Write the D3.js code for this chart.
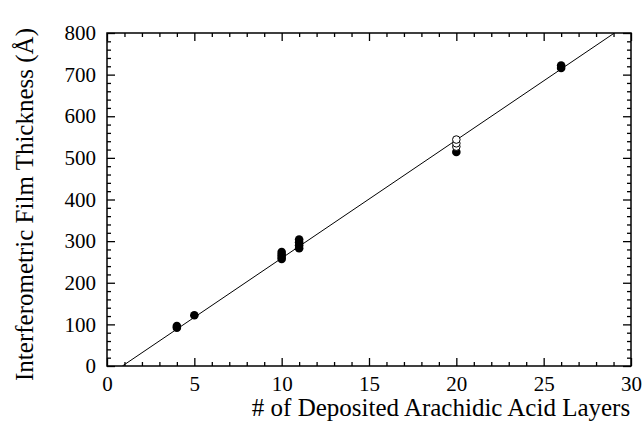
<!DOCTYPE html>
<html><head><meta charset="utf-8">
<script src="https://cdn.jsdelivr.net/npm/d3@7"></script>
<style>html,body{margin:0;padding:0;background:#fff}svg{display:block}
svg text{font-family:"Liberation Serif","Times New Roman",Times,"DejaVu Serif",serif !important;}</style>
</head><body>
<svg id="c" width="644" height="422"></svg>
<script>
// Data
const filledX = [4, 4, 5, 10, 10, 10, 10, 11, 11, 11, 11, 20, 26, 26];
const filledY = [92, 96, 122, 257, 262, 268, 274, 283, 290, 297, 304, 514, 716, 722];
const openX = [20, 20, 20];
const openY = [527, 535, 544];
const fitLine = {slope: 28.4, intercept: -25};
const xTicks = [0, 5, 10, 15, 20, 25, 30];
const yTicks = [0, 100, 200, 300, 400, 500, 600, 700, 800];
const xLabel = "# of Deposited Arachidic Acid Layers";
const yLabel = "Interferometric Film Thickness (Å)";

const svg = d3.select("#c");
const L = 107, R = 631, T = 33, B = 366;
const x = d3.scaleLinear().domain([0, 30]).range([L, R]);
const y = d3.scaleLinear().domain([0, 800]).range([B, T]);

const xMinor = d3.range(0, 31, 1).filter(v => v % 5 !== 0);
const yMinor = d3.range(0, 801, 20).filter(v => v % 100 !== 0);

function axisG(axis, tx, ty) {
  const g = svg.append("g").attr("transform", `translate(${tx},${ty})`).call(axis);
  g.select(".domain").remove();
  g.selectAll("line").attr("stroke", "#000").attr("stroke-width", 1.3);
  return g;
}
axisG(d3.axisBottom(x).tickValues(xTicks).tickSize(-8).tickPadding(10).tickFormat(d3.format("d")), 0, B)
  .selectAll("text").attr("font-size", 21).attr("fill", "#000");
axisG(d3.axisBottom(x).tickValues(xMinor).tickSize(-4).tickFormat(""), 0, B);
axisG(d3.axisTop(x).tickValues(xTicks).tickSize(-8).tickFormat(""), 0, T);
axisG(d3.axisTop(x).tickValues(xMinor).tickSize(-4).tickFormat(""), 0, T);
axisG(d3.axisLeft(y).tickValues(yTicks).tickSize(-8).tickPadding(11).tickFormat(d3.format("d")), L, 0)
  .selectAll("text").attr("font-size", 21).attr("fill", "#000");
axisG(d3.axisLeft(y).tickValues(yMinor).tickSize(-4).tickFormat(""), L, 0);
axisG(d3.axisRight(y).tickValues(yTicks).tickSize(-8).tickFormat(""), R, 0);
axisG(d3.axisRight(y).tickValues(yMinor).tickSize(-4).tickFormat(""), R, 0);

svg.append("rect").attr("x", L).attr("y", T).attr("width", R - L).attr("height", B - T)
  .attr("fill", "none").attr("stroke", "#000").attr("stroke-width", 1.5);

svg.append("clipPath").attr("id", "clip").append("rect")
  .attr("x", L).attr("y", T).attr("width", R - L).attr("height", B - T);
const lx0 = -fitLine.intercept / fitLine.slope, lx1 = (800 - fitLine.intercept) / fitLine.slope;
svg.append("line").attr("clip-path", "url(#clip)")
  .attr("x1", x(lx0)).attr("y1", y(0)).attr("x2", x(lx1)).attr("y2", y(800))
  .attr("stroke", "#000").attr("stroke-width", 1);

svg.append("g").selectAll("circle").data(filledX.map((v, i) => [v, filledY[i]])).join("circle")
  .attr("cx", d => x(d[0])).attr("cy", d => y(d[1])).attr("r", 4.3).attr("fill", "#000");
svg.append("g").selectAll("circle").data(openX.map((v, i) => [v, openY[i]])).join("circle")
  .attr("cx", d => x(d[0])).attr("cy", d => y(d[1])).attr("r", 3.8)
  .attr("fill", "#fff").attr("stroke", "#000").attr("stroke-width", 1);

svg.append("text").attr("x", 441).attr("y", 416).attr("text-anchor", "middle")
  .attr("font-size", 25).text(xLabel);
svg.append("text").attr("transform", `translate(33,${(T + B) / 2 + 5}) rotate(-90)`).attr("text-anchor", "middle")
  .attr("font-size", 25).text(yLabel);
</script>
</body></html>
